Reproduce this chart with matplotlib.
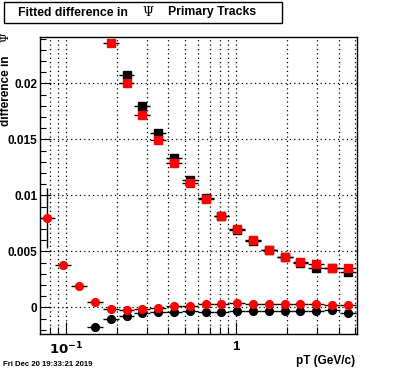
import matplotlib
matplotlib.use("Agg")
import matplotlib.pyplot as plt
import numpy as np
from matplotlib.ticker import FixedLocator, NullFormatter, MultipleLocator
from matplotlib.patches import Rectangle

plt.rcParams['font.family'] = ['Liberation Sans', 'DejaVu Sans']

# bin centres in pT (GeV/c)
pt = [0.0778, 0.0964, 0.1194, 0.1479, 0.1832, 0.2269, 0.2811, 0.3482, 0.4313, 0.5342,
      0.6617, 0.8196, 1.015, 1.257, 1.557, 1.929, 2.389, 2.959, 3.665, 4.540]

# upper pair (squares), from bin 4 on
sq_black = [0.0248, 0.02079, 0.01799, 0.01558, 0.01338, 0.01141, 0.0098, 0.0082,
            0.0069, 0.0059, 0.0051, 0.0045, 0.0040, 0.0035, 0.0035, 0.0032]
sq_red = [0.0236, 0.02007, 0.01721, 0.01496, 0.01293, 0.01114, 0.00968, 0.0082,
          0.00701, 0.00603, 0.00513, 0.00452, 0.00409, 0.00388, 0.00355, 0.00352]

# lower pair (circles)
ci_red = [0.0080, 0.0038, 0.00189, 0.00046, -0.00015, -0.00027, -0.00013, -0.00007, 0.0001, 0.00016,
          0.0003, 0.0003, 0.0004, 0.0003, 0.0003, 0.0003, 0.0003, 0.0003, 0.0002, 0.0002]
ci_red_err = [0.0027, 0.0003, 0.0002, 0.0002, 0.0002, 0.0002, 0.0002, 0.0002, 0.0002, 0.0002,
              0.0002, 0.0002, 0.0002, 0.0002, 0.0002, 0.0002, 0.0002, 0.0002, 0.0002, 0.0002]
# from bin 3 on
ci_black = [-0.00175, -0.00105, -0.0008, -0.00052, -0.00043, -0.0004, -0.00036, -0.0004, -0.0004,
            -0.00033, -0.00034, -0.00034, -0.00034, -0.00034, -0.00034, -0.00026, -0.00052]

# bin edges (geometric midpoints)
lc = np.log10(pt)
mid = (lc[1:] + lc[:-1]) / 2
edges = 10 ** np.concatenate([[2 * lc[0] - mid[0]], mid, [2 * lc[-1] - mid[-1]]])
x = np.array(pt)
xlo = x - edges[:-1]
xhi = edges[1:] - x

fig = plt.figure(figsize=(3.96, 3.72), dpi=100)
ax = fig.add_axes([40 / 396, 1 - 334 / 372, 316.5 / 396, 297 / 372])


def draw(i0, vals, yerr, color, marker, ms):
    n = len(vals)
    s = slice(i0, i0 + n)
    ax.errorbar(x[s], vals, xerr=[xlo[s], xhi[s]], yerr=yerr, fmt=marker, color=color,
                ecolor='black', ms=ms, mec=color, elinewidth=1, capsize=0, zorder=3)


draw(4, sq_black, 0.0001, 'black', 's', 5.2)
draw(4, sq_red, 0.0001, 'red', 's', 5.2)
draw(3, ci_black, 0.0001, 'black', 'o', 5.6)
draw(0, ci_red, ci_red_err, 'red', 'o', 5.6)

ax.set_xscale('log')
ax.set_xlim(0.0703, 5.1)
ax.set_ylim(-0.00237, 0.02415)

ax.yaxis.set_minor_locator(MultipleLocator(0.001))
ax.set_yticks([0, 0.005, 0.01, 0.015, 0.02])
ax.set_yticklabels(['0', '0.005', '0.01', '0.015', '0.02'])

xmaj = [0.1, 1]
xmin = [0.08, 0.09, 0.2, 0.3, 0.4, 0.5, 0.6, 0.7, 0.8, 0.9, 2, 3, 4, 5]
ax.xaxis.set_major_locator(FixedLocator(xmaj))
ax.xaxis.set_minor_locator(FixedLocator(xmin))
ax.set_xticklabels(['$\\mathbf{10^{-1}}$', '1'])
ax.xaxis.set_minor_formatter(NullFormatter())

ax.tick_params(axis='both', which='both', direction='in', top=False, right=False, width=0.8)
ax.tick_params(axis='y', which='major', length=8, labelsize=8.5, pad=2)
ax.tick_params(axis='y', which='minor', length=4)
ax.tick_params(axis='x', which='major', length=9, labelsize=9.5, pad=5)
ax.tick_params(axis='x', which='minor', length=5)
for lab in ax.get_yticklabels() + ax.get_xticklabels():
    lab.set_fontweight('bold')

ax.grid(True, which='major', axis='y', color='black', linestyle=(0, (1, 2.5)), linewidth=0.9)
ax.grid(True, which='both', axis='x', color='black', linestyle=(0, (1, 2.5)), linewidth=0.9)
for sp in ax.spines.values():
    sp.set_linewidth(1)

fig.text(355 / 396, 1 - 361 / 372, 'pT (GeV/c)', ha='right', va='center', fontsize=8.5, fontweight='bold')
fig.text(6 / 396, 1 - 56 / 372, 'difference in', rotation=90, ha='center', va='top',
         fontsize=8.5, fontweight='bold')
fig.text(6 / 396, 1 - 32 / 372, 'Ψ', rotation=90, ha='center', va='top',
         fontsize=8, family=['DejaVu Serif'])

# title box
fig.patches.append(Rectangle((3.5 / 396, 1 - 22.5 / 372), 278 / 396, 21 / 372, transform=fig.transFigure,
                             facecolor='white', edgecolor='black', linewidth=1))
fig.text(18 / 396, 1 - 12.5 / 372, 'Fitted difference in', ha='left', va='center', fontsize=8.8, fontweight='bold')
fig.text(147.5 / 396, 1 - 12.5 / 372, 'Ψ', ha='center', va='center', fontsize=9, family=['DejaVu Serif'])
fig.text(168 / 396, 1 - 12.5 / 372, 'Primary Tracks', ha='left', va='center', fontsize=8.8, fontweight='bold')

fig.text(3 / 396, 1 - 364 / 372, 'Fri Dec 20 19:33:21 2019', ha='left', va='center', fontsize=5.6, fontweight='bold')

fig.savefig('out.png', dpi=100)
